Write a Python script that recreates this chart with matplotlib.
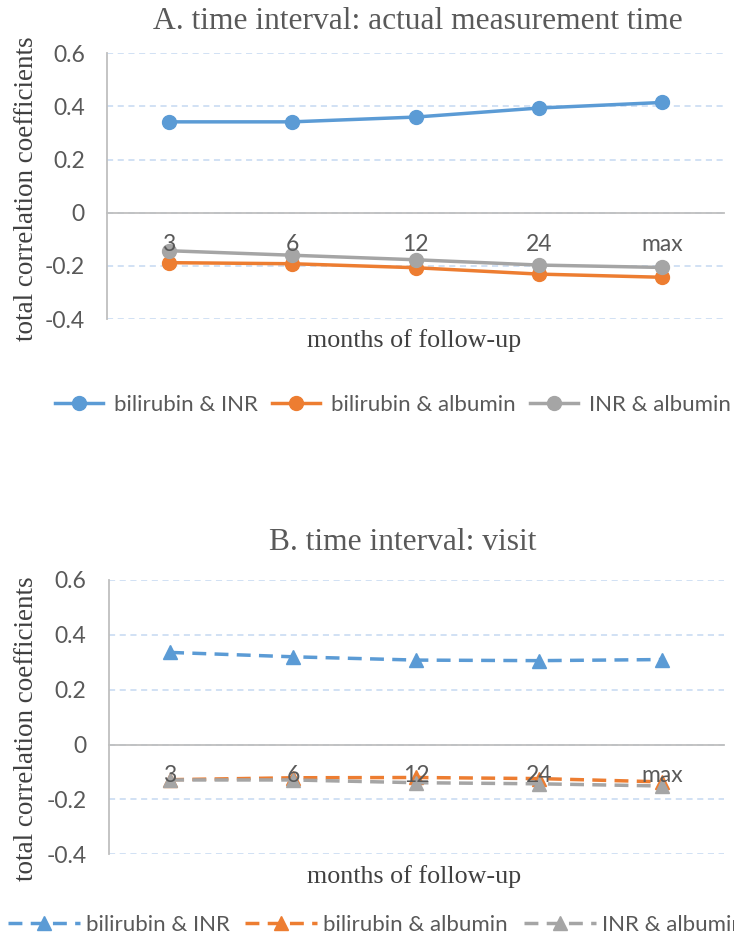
import matplotlib
matplotlib.use("Agg")
import matplotlib.pyplot as plt

plt.rcParams['axes.unicode_minus'] = False

months = ["3", "6", "12", "24", "max"]
yticks = [-0.4, -0.2, 0, 0.2, 0.4, 0.6]
ytick_labels = ["-0.4", "-0.2", "0", "0.2", "0.4", "0.6"]
names = ["bilirubin & INR", "bilirubin & albumin", "INR & albumin"]

# A. actual measurement time
a_bili_inr = [0.342, 0.342, 0.360, 0.394, 0.415]
a_bili_alb = [-0.188, -0.192, -0.207, -0.231, -0.243]
a_inr_alb = [-0.143, -0.160, -0.177, -0.197, -0.206]

# B. visit
b_bili_inr = [0.336, 0.320, 0.308, 0.306, 0.310]
b_bili_alb = [-0.128, -0.121, -0.120, -0.124, -0.136]
b_inr_alb = [-0.129, -0.129, -0.139, -0.143, -0.151]

COLORS = ["#5B9BD5", "#ED7D31", "#A5A5A5"]
SERIF = "Liberation Serif"
SANS = "Lato"
W, H = 734, 938

def panel(ax, series, marker, dashed):
  x = range(len(months))
  for vals, c in zip(series, COLORS):
    ls = (0, (4, 2.4)) if dashed else '-'
    ax.plot(x, vals, color = c, lw = 2.5, ls = ls, marker = marker, ms = 10,
            mec = c, mfc = c, zorder = 2)

  ax.set_xlim(-0.5, len(months) - 0.5)
  ax.set_ylim(-0.4, 0.6)
  ax.set_yticks(yticks)
  ax.set_yticklabels(ytick_labels)
  ax.set_xticks(list(x))
  ax.set_xticklabels(months)

  for s in ["top", "right"]:
    ax.spines[s].set_visible(False)
  ax.spines["bottom"].set_position(("data", 0))
  for s in ["left", "bottom"]:
    ax.spines[s].set_color("#BFBFBF")
    ax.spines[s].set_linewidth(1.3)

  ax.yaxis.grid(True, color = "#C5D9F1", ls = (0, (4, 3)), lw = 1.1)
  ax.yaxis.set_zorder(1)
  ax.xaxis.set_zorder(3)

  ax.tick_params(axis = "both", length = 0, labelsize = 16.5, labelcolor = "#595959")
  ax.tick_params(axis = "y", pad = 16)
  ax.tick_params(axis = "x", pad = 15)
  for lab in ax.get_xticklabels() + ax.get_yticklabels():
    lab.set_family(SANS)

fig = plt.figure(figsize = (W / 100, H / 100), dpi = 100)

axA = fig.add_axes([107 / W, 1 - 319 / H, (724 - 107) / W, 265.7 / H])
panel(axA, [a_bili_inr, a_bili_alb, a_inr_alb], "o", False)

axB = fig.add_axes([108.6 / W, 1 - 854.3 / H, (724 - 108.6) / W, 274.3 / H])
panel(axB, [b_bili_inr, b_bili_alb, b_inr_alb], "^", True)

fig.text(417.5 / W, 1 - 29 / H, "A. time interval: actual measurement time", family = SERIF,
         fontsize = 22.7, color = "#595959", ha = "center", va = "baseline")
fig.text(402.5 / W, 1 - 550 / H, "B. time interval: visit", family = SERIF,
         fontsize = 22.7, color = "#595959", ha = "center", va = "baseline")

for yb, yc in [(347, 189), (883, 729)]:
  fig.text(414.5 / W, 1 - yb / H, "months of follow-up", family = SERIF, fontsize = 18.7,
           color = "#404040", ha = "center", va = "baseline")
  fig.text(26.5 / W, 1 - yc / H, "total correlation coefficients", family = SERIF, fontsize = 19.5,
           color = "#404040", ha = "center", va = "center", rotation = 90)

hA = axA.get_lines()
fig.legend(hA, names, loc = "center left", bbox_to_anchor = (55 / W, 1 - 405 / H), ncol = 3,
           frameon = False, borderpad = 0, borderaxespad = 0, handlelength = 2.16,
           handletextpad = 0.5, columnspacing = 0.63, prop = {"family": SANS, "size": 16},
           labelcolor = "#595959")

hB = axB.get_lines()
fig.legend(hB, names, loc = "center left", bbox_to_anchor = (8 / W, 1 - 925 / H), ncol = 3,
           frameon = False, borderpad = 0, borderaxespad = 0, handlelength = 3.24,
           handletextpad = 0.27, columnspacing = 0.7, prop = {"family": SANS, "size": 16},
           labelcolor = "#595959")

fig.savefig("out.png", dpi = 100)
